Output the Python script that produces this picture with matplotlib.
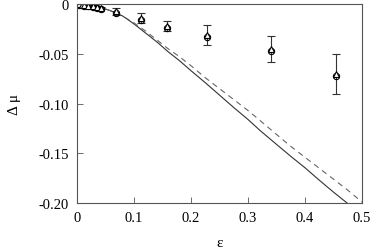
import matplotlib
matplotlib.use("Agg")
import matplotlib.pyplot as plt

plt.rcParams['font.family'] = ['Liberation Serif', 'DejaVu Serif']

# --- curves ---
solid_eps = [0, 0.02, 0.04, 0.06, 0.08, 0.10, 0.12, 0.14, 0.16, 0.18, 0.20, 0.225, 0.25,
             0.275, 0.30, 0.321, 0.35, 0.375, 0.40, 0.425, 0.45, 0.474, 0.49]
solid_dmu = [0, -0.001, -0.003, -0.007, -0.012, -0.020, -0.029, -0.038, -0.048, -0.057,
             -0.067, -0.079, -0.0915, -0.104, -0.116, -0.127, -0.141, -0.153, -0.1645,
             -0.177, -0.189, -0.200, -0.208]
dash_eps = [0, 0.02, 0.04, 0.06, 0.08, 0.10, 0.12, 0.14, 0.16, 0.18, 0.20, 0.225, 0.25,
            0.275, 0.30, 0.321, 0.35, 0.375, 0.40, 0.425, 0.45, 0.475, 0.50]
dash_dmu = [0, -0.001, -0.003, -0.007, -0.012, -0.019, -0.027, -0.036, -0.045, -0.053,
            -0.062, -0.074, -0.085, -0.096, -0.107, -0.117, -0.131, -0.143, -0.154,
            -0.165, -0.176, -0.187, -0.199]

# --- simulation points ---
tri_eps = [0.003, 0.008, 0.013, 0.02, 0.028, 0.035, 0.043, 0.068, 0.113, 0.158, 0.228, 0.34, 0.455]
tri_dmu = [-0.0003, -0.0005, -0.001, -0.0015, -0.002, -0.003, -0.004, -0.0075, -0.014, -0.022, -0.031, -0.045, -0.070]
tri_err = [0.0005, 0.0005, 0.0008, 0.001, 0.001, 0.0012, 0.0015, 0.004, 0.005, 0.005, 0.010, 0.013, 0.020]
circ_eps = [0.003, 0.008, 0.013, 0.02, 0.028, 0.035, 0.043, 0.068, 0.113, 0.158, 0.228, 0.34, 0.455]
circ_dmu = [-0.0008, -0.001, -0.0015, -0.002, -0.003, -0.004, -0.005, -0.009, -0.016, -0.024, -0.033, -0.047, -0.072]

xticks = [0, 0.1, 0.2, 0.3, 0.4, 0.5]
xticklabels = ["0", "0.1", "0.2", "0.3", "0.4", "0.5"]
yticks = [0, -0.05, -0.10, -0.15, -0.20]
yticklabels = ["0", "-0.05", "-0.10", "-0.15", "-0.20"]

fig = plt.figure(figsize=(3.71, 2.51), dpi=100)
ax = fig.add_axes([0.2075, 0.187, 0.7682, 0.793])

ax.plot(solid_eps, solid_dmu, color="#333333", lw=0.8)
ax.plot(dash_eps, dash_dmu, color="#666666", lw=0.8, dashes=(5, 4))
ax.errorbar(tri_eps, tri_dmu, yerr=tri_err, fmt="^", mfc="white", mec="black",
            ms=4.5, mew=0.8, ecolor="#333333", elinewidth=0.8, capsize=3, capthick=0.8)
ax.plot(circ_eps, circ_dmu, "o", mfc="none", mec="black", ms=4.5, mew=0.8)

ax.set_xlim(0, 0.5)
ax.set_ylim(-0.2, 0)
ax.set_xticks(xticks)
ax.set_xticklabels(xticklabels, fontsize=10.5)
ax.set_yticks(yticks)
ax.set_yticklabels(yticklabels, fontsize=10.5)
ax.tick_params(direction="in", length=4, width=0.6, color="#555555", pad=6,
               top=False, right=False)
for s in ax.spines.values():
    s.set_linewidth(0.8)
    s.set_color("#555555")

ax.set_xlabel("ε", fontsize=11, labelpad=8)
ax.set_ylabel("Δ μ", fontsize=11, labelpad=12)

fig.savefig("out.png", dpi=100)
